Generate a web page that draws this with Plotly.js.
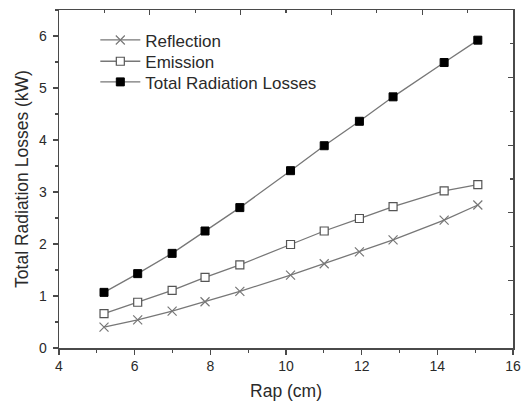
<!DOCTYPE html>
<html>
<head>
<meta charset="utf-8">
<script src="https://cdn.plot.ly/plotly-3.0.1.min.js"></script>
<style>html,body{margin:0;padding:0;background:#fff;}#chart{width:531px;height:401px;}</style>
</head>
<body>
<div id="chart"></div>
<script>
const rap = [5.19, 6.08, 6.99, 7.86, 8.78, 10.12, 11.01, 11.94, 12.83, 14.18, 15.07];
const reflection = [0.40, 0.54, 0.71, 0.89, 1.09, 1.40, 1.62, 1.85, 2.08, 2.46, 2.75];
const emission = [0.66, 0.88, 1.11, 1.36, 1.60, 1.99, 2.25, 2.49, 2.72, 3.02, 3.14];
const total = [1.07, 1.43, 1.82, 2.25, 2.70, 3.41, 3.89, 4.36, 4.83, 5.49, 5.92];
const seriesNames = ['Reflection', 'Emission', 'Total Radiation Losses'];

const lineColor = '#777777';
const axisColor = '#4a4a4a';
const textColor = '#2a2a2a';
const font = 'Liberation Sans, Arial, sans-serif';

const traces = [
  {x: rap, y: reflection, name: seriesNames[0], legend: 'legend', mode: 'lines+markers', type: 'scatter',
   line: {color: lineColor, width: 1.3},
   marker: {symbol: 'x-thin-open', size: 9, color: lineColor, line: {color: lineColor, width: 1.2}}},
  {x: rap, y: emission, name: seriesNames[1], legend: 'legend2', mode: 'lines+markers', type: 'scatter',
   line: {color: lineColor, width: 1.3},
   marker: {symbol: 'square', size: 8, color: '#ffffff', line: {color: '#555555', width: 1.2}}},
  {x: rap, y: total, name: seriesNames[2], legend: 'legend3', mode: 'lines+markers', type: 'scatter',
   line: {color: lineColor, width: 1.3},
   marker: {symbol: 'square', size: 8, color: '#000000', line: {color: '#000000', width: 1}}},
  // empty helper traces so the mirrored top/right frame axes get drawn
  {x: [], y: [], xaxis: 'x2', yaxis: 'y', showlegend: false, hoverinfo: 'skip', type: 'scatter', mode: 'markers'},
  {x: [], y: [], xaxis: 'x', yaxis: 'y2', showlegend: false, hoverinfo: 'skip', type: 'scatter', mode: 'markers'}
];

function legendAt(yc) {
  return {x: 0.08, y: yc, xanchor: 'left', yanchor: 'middle', bgcolor: 'rgba(0,0,0,0)',
          font: {family: font, size: 17, color: textColor}, itemwidth: 40};
}

const layout = {
  width: 531, height: 401,
  margin: {l: 59, r: 18, t: 10, b: 53},
  paper_bgcolor: '#ffffff', plot_bgcolor: '#ffffff',
  font: {family: font, color: textColor, size: 14},
  showlegend: true,
  legend: legendAt(0.910),
  legend2: legendAt(0.847),
  legend3: legendAt(0.786),
  xaxis: {range: [4, 16], dtick: 2, tick0: 4, ticks: 'outside', ticklen: 5, tickwidth: 1.3,
          tickcolor: axisColor, showline: true, linecolor: axisColor, linewidth: 1.5,
          showgrid: false, zeroline: false, tickfont: {size: 14},
          minor: {dtick: 1, ticks: 'outside', ticklen: 3, tickcolor: axisColor, tickwidth: 1.2},
          title: {text: 'Rap (cm)', font: {size: 17.5, color: textColor}, standoff: 14}},
  yaxis: {range: [0, 6.5], dtick: 1, tick0: 0, ticks: 'outside', ticklen: 5, tickwidth: 1.3,
          tickcolor: axisColor, showline: true, linecolor: axisColor, linewidth: 1.5,
          showgrid: false, zeroline: false, tickfont: {size: 14}, ticklabelstandoff: 3,
          minor: {dtick: 0.5, ticks: 'outside', ticklen: 3, tickcolor: axisColor, tickwidth: 1.2},
          title: {text: 'Total Radiation Losses (kW)', font: {size: 17.5, color: textColor}, standoff: 6}},
  xaxis2: {overlaying: 'x', side: 'top', anchor: 'y', range: [0, 10], dtick: 2, tick0: 0,
           ticks: 'inside', ticklen: 5, tickwidth: 1.3, tickcolor: axisColor, showticklabels: false,
           showline: true, linecolor: axisColor, linewidth: 1.5, showgrid: false, zeroline: false,
           minor: {dtick: 1, ticks: 'inside', ticklen: 3, tickcolor: axisColor, tickwidth: 1.2}},
  yaxis2: {overlaying: 'y', side: 'right', anchor: 'x', range: [0, 10], dtick: 2, tick0: 0,
           ticks: 'inside', ticklen: 5, tickwidth: 1.3, tickcolor: axisColor, showticklabels: false,
           showline: true, linecolor: axisColor, linewidth: 1.5, showgrid: false, zeroline: false,
           minor: {dtick: 1, ticks: 'inside', ticklen: 3, tickcolor: axisColor, tickwidth: 1.2}}
};

Plotly.newPlot('chart', traces, layout, {staticPlot: true, displayModeBar: false});
</script>
</body>
</html>
